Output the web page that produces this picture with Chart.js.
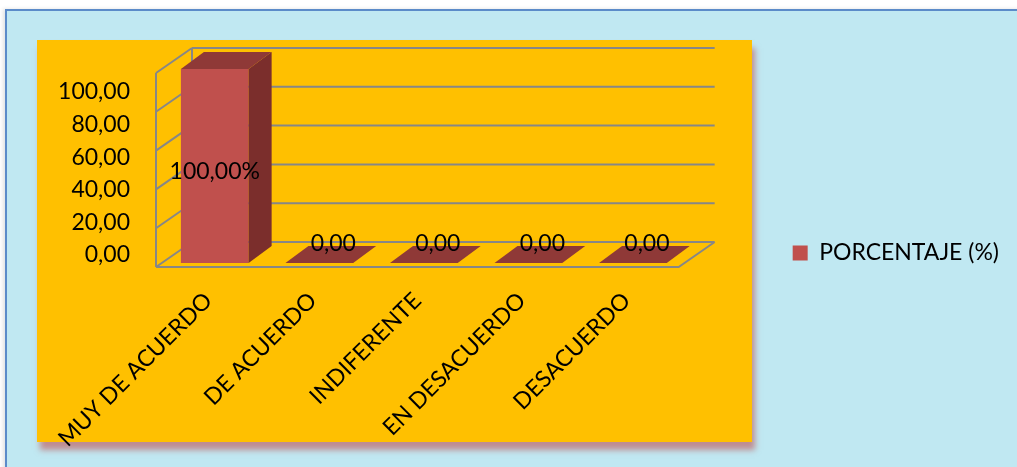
<!DOCTYPE html>
<html>
<head>
<meta charset="utf-8">
<script src="https://cdn.jsdelivr.net/npm/chart.js@4.4.1/dist/chart.umd.min.js"></script>
<style>
  html, body { margin: 0; padding: 0; background: #fff; }
  #frame { position: absolute; left: 0; top: 0; width: 1017px; height: 467px; overflow: hidden; }
  #panel {
    position: absolute; left: 5px; top: 9px; width: 1030px; height: 480px;
    background: #c0e8f2; border-left: 2px solid #5b8bc9; border-top: 2px solid #5b8bc9;
    box-shadow: -2px 0 4px rgba(0, 0, 0, 0.12);
  }
  #plot {
    position: absolute; left: 37px; top: 40px; width: 715px; height: 402px;
    background: #ffc000; box-shadow: 3px 8px 6px rgba(190, 80, 80, 0.6);
  }
  canvas { position: absolute; left: 0; top: 0; }
</style>
</head>
<body>
<div id="frame">
  <div id="panel"></div>
  <div id="plot"></div>
  <canvas id="chart" width="1017" height="467"></canvas>
</div>
<script>
const categories = ['MUY DE ACUERDO', 'DE ACUERDO', 'INDIFERENTE', 'EN DESACUERDO', 'DESACUERDO'];
const porcentaje = [100, 0, 0, 0, 0];
const labelSuffix = ['%', '', '', '', ''];
const yTicks = [0, 20, 40, 60, 80, 100];

const FONT = { family: 'Lato', size: 23 };
const WALL = { x: 36, y: -25 };   // depth of the back wall
const BAR = { x: 23, y: -17 };    // depth of each column
const SHIFT = { x: 6.5, y: -4 };  // columns sit a little behind the front plane

const fmt = v => v.toFixed(2).replace('.', ',');

function poly(ctx, pts, color) {
  ctx.beginPath();
  ctx.moveTo(pts[0][0], pts[0][1]);
  for (let i = 1; i < pts.length; i++) ctx.lineTo(pts[i][0], pts[i][1]);
  ctx.closePath();
  ctx.fillStyle = color;
  ctx.fill();
}

// walls, floor and the side/top faces of the columns
const box3d = {
  id: 'box3d',
  beforeDatasetsDraw(chart) {
    const { ctx, chartArea: a, scales: { y } } = chart;
    const p0 = y.getPixelForValue(0);
    const p100 = y.getPixelForValue(100);
    ctx.save();
    ctx.strokeStyle = '#878787';
    ctx.lineWidth = 2;
    ctx.beginPath();
    yTicks.forEach(v => {
      const py = y.getPixelForValue(v);
      ctx.moveTo(a.left + WALL.x, py + WALL.y);
      ctx.lineTo(a.right + WALL.x, py + WALL.y);
      ctx.moveTo(a.left, py);
      ctx.lineTo(a.left + WALL.x, py + WALL.y);
    });
    ctx.moveTo(a.left, p100);
    ctx.lineTo(a.left, p0);
    ctx.moveTo(a.left + WALL.x, p100 + WALL.y);
    ctx.lineTo(a.left + WALL.x, p0 + WALL.y);
    ctx.moveTo(a.left, p0);
    ctx.lineTo(a.right, p0);
    ctx.lineTo(a.right + WALL.x, p0 + WALL.y);
    ctx.stroke();
    ctx.restore();

    ctx.save();
    ctx.translate(SHIFT.x, SHIFT.y);
  },
  afterDatasetsDraw(chart) {
    const { ctx } = chart;
    const meta = chart.getDatasetMeta(0);
    meta.data.forEach(bar => {
      const { x, y, base, width } = bar.getProps(['x', 'y', 'base', 'width'], true);
      const l = x - width / 2, r = x + width / 2;
      if (base - y > 0.5) {
        poly(ctx, [[r, y], [r + BAR.x, y + BAR.y], [r + BAR.x, base + BAR.y], [r, base]], '#7b2e2c');
      }
      poly(ctx, [[l, y], [r, y], [r + BAR.x, y + BAR.y], [l + BAR.x, y + BAR.y]], '#8f3937');
    });

    ctx.font = `${FONT.size}px ${FONT.family}`;
    ctx.fillStyle = '#000';
    ctx.textAlign = 'center';
    ctx.textBaseline = 'middle';
    meta.data.forEach((bar, i) => {
      const v = porcentaje[i];
      const text = fmt(v) + labelSuffix[i];
      if (v > 0) {
        ctx.fillText(text, bar.x, (bar.y + bar.base) / 2 + 6);
      } else {
        ctx.fillText(text, bar.x + 14, bar.y - 19);
      }
    });
    ctx.restore();
  }
};

new Chart(document.getElementById('chart'), {
  type: 'bar',
  data: {
    labels: categories,
    datasets: [{
      label: 'PORCENTAJE (%)',
      data: porcentaje,
      backgroundColor: '#c0504d',
      borderWidth: 0,
      categoryPercentage: 1,
      barPercentage: 0.648
    }]
  },
  options: {
    responsive: false,
    animation: false,
    layout: { padding: { left: 0, top: 39, right: 8, bottom: 0 } },
    plugins: {
      tooltip: { enabled: false },
      // empty spacer above the plot, keeps the legend centred lower down
      title: { display: true, text: '', padding: 0, font: { size: 34, lineHeight: 1 } },
      legend: {
        position: 'right',
        maxWidth: 400,
        labels: {
          boxWidth: 15,
          boxHeight: 15,
          padding: 114,
          color: '#000',
          font: FONT
        }
      }
    },
    scales: {
      x: {
        grid: { display: false, drawTicks: false },
        border: { display: false },
        ticks: {
          color: '#000',
          font: FONT,
          autoSkip: false,
          minRotation: 45,
          maxRotation: 45,
          padding: 20
        },
        afterFit: s => { s.height = 200; }
      },
      y: {
        display: false,
        min: 0,
        max: 100
      },
      yl: {
        position: 'left',
        min: -7.4,
        max: 111.7,
        grid: { display: false, drawTicks: false },
        border: { display: false },
        ticks: {
          color: '#000',
          font: FONT,
          padding: 26,
          callback: v => fmt(v)
        },
        afterBuildTicks: s => { s.ticks = yTicks.map(v => ({ value: v })); },
        afterFit: s => { s.width = 156; }
      }
    }
  },
  plugins: [box3d]
});
</script>
</body>
</html>
